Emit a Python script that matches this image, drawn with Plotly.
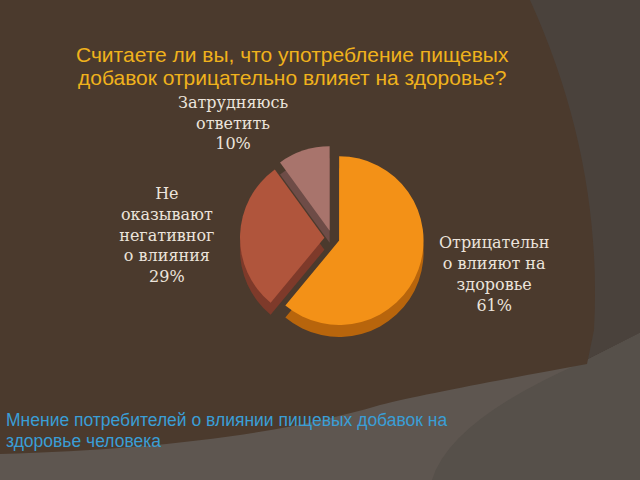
import plotly.graph_objects as go

# ---- data ----
categories = ["Отрицательн<br>о влияют на<br>здоровье",
              "Не<br>оказывают<br>негативног<br>о влияния",
              "Затрудняюсь<br>ответить"]
values = [61, 29, 10]
top_colors = ["#f39117", "#b0553c", "#a8746c"]
side_colors = ["#b8650c", "#7e3a2a", "#6e4c47"]

title_lines = ["Считаете ли вы, что употребление пищевых",
               "добавок отрицательно влияет на здоровье?"]
footer_lines = ["Мнение потребителей о влиянии пищевых добавок на",
                "здоровье человека"]

W, H = 640, 480


def px(x, y):
    return f"{x / W:.4f},{1 - y / H:.4f}"


fig = go.Figure()

cx, cy, r = 332, 238, 92
depth = 12
pull = [0.09, 0.09, 0.09]

# side (depth) of the pie
fig.add_trace(go.Pie(
    labels=categories, values=values, sort=False, direction="clockwise", rotation=0,
    pull=pull, marker=dict(colors=side_colors, line=dict(width=0)),
    textinfo="none", hoverinfo="skip", showlegend=False,
    domain=dict(x=[(cx - r) / W, (cx + r) / W], y=[1 - (cy + depth + r) / H, 1 - (cy + depth - r) / H]),
))
# top of the pie
fig.add_trace(go.Pie(
    labels=categories, values=values, sort=False, direction="clockwise", rotation=0,
    pull=pull, marker=dict(colors=top_colors, line=dict(width=0)),
    texttemplate="%{label}<br>%{percent:.0%}", textposition="outside",
    textfont=dict(family="DejaVu Serif", size=16, color="#ece4dc"),
    showlegend=False,
    domain=dict(x=[(cx - r) / W, (cx + r) / W], y=[1 - (cy + r) / H, 1 - (cy - r) / H]),
))

shapes = []
# lower lighter region
shapes.append(dict(type="path", xref="paper", yref="paper", layer="below",
                   path=f"M {px(0,480)} L {px(640,480)} L {px(640,333)} L {px(583,362)} L {px(0,440)} Z",
                   fillcolor="#5e5650", line=dict(width=0)))
# darker bottom-right wedge
shapes.append(dict(type="path", xref="paper", yref="paper", layer="below",
                   path=f"M {px(583,362)} L {px(640,333)} L {px(640,480)} L {px(432,480)} Q {px(450,420)} {px(583,362)} Z",
                   fillcolor="#56504a", line=dict(width=0)))
# main brown blob
shapes.append(dict(type="path", xref="paper", yref="paper", layer="below",
                   path=(f"M {px(0,0)} L {px(530,0)} C {px(580,110)} {px(600,220)} {px(594,330)} "
                         f"L {px(587,364)} C {px(500,380)} {px(420,395)} {px(380,405)} "
                         f"C {px(280,435)} {px(150,450)} {px(0,454)} Z"),
                   fillcolor="#4b3a2d", line=dict(width=0)))

annotations = []
for i, line in enumerate(title_lines):
    annotations.append(dict(text=line, xref="paper", yref="paper", x=292 / W, y=1 - (54 + 23 * i) / H,
                            xanchor="center", yanchor="middle", showarrow=False,
                            font=dict(family="Liberation Sans", size=21, color="#f0b21c")))
for i, line in enumerate(footer_lines):
    annotations.append(dict(text=line, xref="paper", yref="paper", x=4 / W, y=1 - (420 + 21 * i) / H,
                            xanchor="left", yanchor="middle", showarrow=False,
                            font=dict(family="Liberation Sans", size=17.5, color="#3a9ed6")))

fig.update_layout(
    width=W, height=H,
    margin=dict(l=0, r=0, t=0, b=0),
    paper_bgcolor="#4a423c",
    plot_bgcolor="#4a423c",
    shapes=shapes,
    annotations=annotations,
)

fig.write_html("out.html", config={"displayModeBar": False},
               post_script="document.body.style.margin='0';")
